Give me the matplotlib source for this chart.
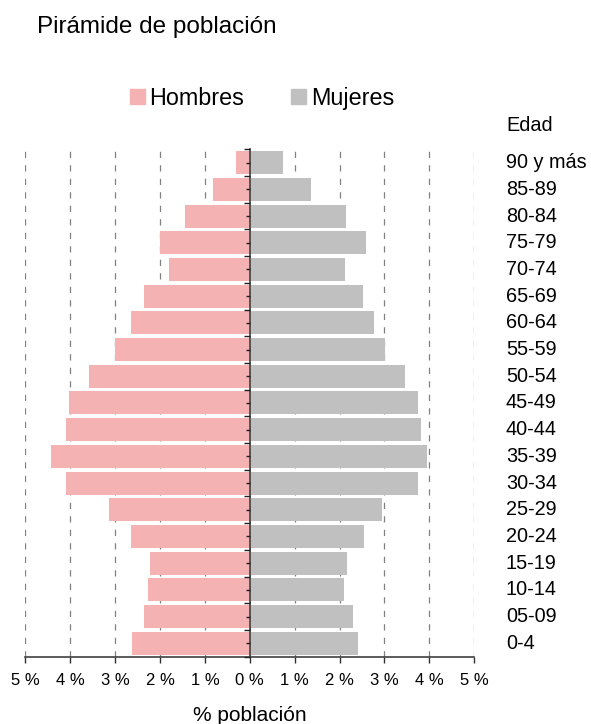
import matplotlib
matplotlib.use("Agg")
import matplotlib.pyplot as plt
from matplotlib.patches import Patch
from matplotlib.ticker import FuncFormatter, FixedLocator
import numpy as np

plt.rcParams['font.family'] = ['Liberation Sans', 'DejaVu Sans']

# Grupos de edad (de abajo hacia arriba)
edades = ["0-4", "05-09", "10-14", "15-19", "20-24", "25-29", "30-34", "35-39",
          "40-44", "45-49", "50-54", "55-59", "60-64", "65-69", "70-74", "75-79",
          "80-84", "85-89", "90 y más"]

# % de población
hombres = [2.63, 2.36, 2.27, 2.23, 2.65, 3.14, 4.10, 4.43, 4.10, 4.03,
           3.59, 3.00, 2.65, 2.36, 1.80, 2.00, 1.45, 0.82, 0.31]
mujeres = [2.41, 2.30, 2.10, 2.17, 2.54, 2.95, 3.75, 3.95, 3.82, 3.75,
           3.46, 3.01, 2.77, 2.52, 2.12, 2.59, 2.14, 1.36, 0.74]

col_h = "#f5b2b2"
col_m = "#c0c0c0"

fig = plt.figure(figsize=(5.91, 7.24), dpi=100)
ax = fig.add_axes([0.0428, 0.0930, 0.7597, 0.7008])

y = np.arange(len(edades))
ax.barh(y, [-v for v in hombres], height=0.86, color=col_h, zorder=3)
ax.barh(y, mujeres, height=0.86, color=col_m, zorder=3)

ax.set_xlim(-5, 5)
ax.set_ylim(-0.5, len(edades) - 0.5)

# eje x
ax.set_xticks(np.arange(-5, 6))
ax.xaxis.set_major_formatter(FuncFormatter(lambda v, p: f"{abs(int(round(v)))} %"))
ax.tick_params(axis='x', length=4, width=1, color='#303030', pad=8, labelsize=12)
ax.grid(axis='x', color='#808080', linewidth=0.9, linestyle=(0, (5, 5.8)))
ax.set_axisbelow(True)

# eje y en el 0
for s in ['top', 'right']:
    ax.spines[s].set_visible(False)
ax.spines['left'].set_position(('data', 0))
ax.spines['left'].set_color('#404040')
ax.spines['left'].set_linewidth(1.2)
ax.spines['left'].set_zorder(5)
ax.spines['bottom'].set_color('#404040')
ax.spines['bottom'].set_linewidth(1.2)
ax.yaxis.set_major_locator(FixedLocator(np.arange(len(edades) + 1) - 0.5))
ax.yaxis.set_minor_locator(FixedLocator(y))
ax.tick_params(axis='y', which='major', length=4.5, width=1, color='#202020', labelleft=False)
ax.tick_params(axis='y', which='minor', length=3, width=1, color='#202020')
ax.yaxis.set_zorder(5)

# etiquetas de edad a la derecha
tr = ax.get_yaxis_transform()
for yi, lab in zip(y, edades):
    ax.text(1.0706, yi, lab, transform=tr, ha='left', va='center', fontsize=14.3)
ax.text(1.0706, len(edades) - 0.5 + 0.9, "Edad", transform=tr, ha='left', va='center',
        fontsize=14.3, clip_on=False)

ax.set_xlabel("% población", fontsize=15, va='center')
ax.xaxis.set_label_coords(0.5, -0.115)

fig.text(0.0626, 0.9627, "Pirámide de población", fontsize=17.5, va='center', ha='left')

handles = [Patch(color=col_h, label="Hombres"), Patch(color=col_m, label="Mujeres")]
fig.legend(handles=handles, loc='center', bbox_to_anchor=(262 / 591, 0.8646),
           bbox_transform=fig.transFigure, ncol=2, frameon=False, fontsize=16.8,
           handlelength=0.65, handleheight=0.65, handletextpad=0.2,
           columnspacing=2.0, borderpad=0, borderaxespad=0)

fig.savefig("out.png", dpi=100)
